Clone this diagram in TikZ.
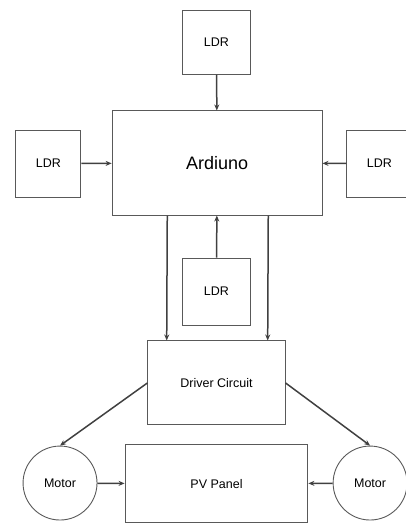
\documentclass[tikz,border=0pt]{standalone}
\usepackage{fontspec}
\setmainfont{Liberation Sans}
\usetikzlibrary{arrows.meta}
\begin{document}
\begin{tikzpicture}[>={Stealth[length=6pt,width=5pt]},
  box/.style={draw=black!65, line width=0.9pt, font=\fontsize{12.5}{14}\selectfont},
  ar/.style={->, line width=1.5pt, black!75}]
\useasboundingbox (0,0) rectangle (14.27,18.49);
\node[box, minimum width=2.36cm, minimum height=2.25cm] (ldrT) at (7.61,17.01) {LDR};
\node[box, minimum width=7.38cm, minimum height=3.66cm, font=\fontsize{18}{20}\selectfont] (ard) at (7.63,12.76) {Ardiuno};
\node[box, minimum width=2.29cm, minimum height=2.36cm] (ldrL) at (1.70,12.74) {LDR};
\node[box, minimum width=2.29cm, minimum height=2.36cm] (ldrR) at (13.34,12.74) {LDR};
\node[box, minimum width=2.36cm, minimum height=2.36cm] (ldrB) at (7.61,8.24) {LDR};
\node[box, minimum width=4.82cm, minimum height=2.95cm] (drv) at (7.61,5.03) {Driver Circuit};
\node[box, circle, minimum size=2.6cm] (motL) at (2.11,1.51) {Motor};
\node[box, circle, minimum size=2.6cm] (motR) at (13.01,1.51) {Motor};
\node[box, minimum width=6.43cm, minimum height=2.74cm] (pv) at (7.61,1.48) {PV Panel};
\draw[ar] (ldrT) -- (ard);
\draw[ar] (ldrL) -- (ard);
\draw[ar] (ldrR) -- (ard);
\draw[ar] (ldrB) -- (ard);
\draw[ar] ([xshift=-1.75cm]ard.south) -- ([xshift=-1.75cm]drv.north);
\draw[ar] ([xshift=1.8cm]ard.south) -- ([xshift=1.8cm]drv.north);
\draw[ar] (drv.west) -- (motL.north);
\draw[ar] (drv.east) -- (motR.north);
\draw[ar] (motL) -- (pv);
\draw[ar] (motR) -- (pv);
\end{tikzpicture}
\end{document}
